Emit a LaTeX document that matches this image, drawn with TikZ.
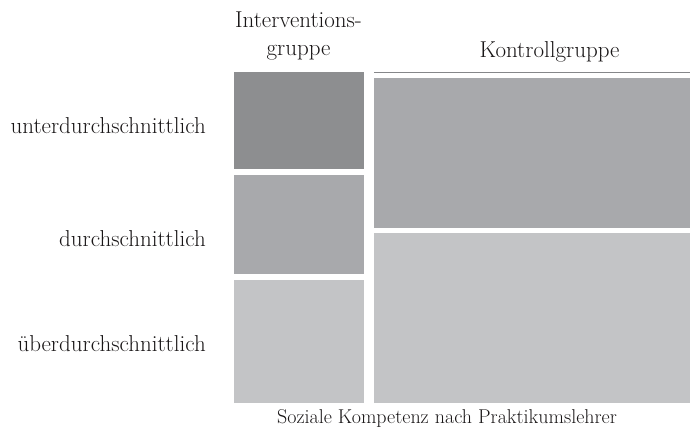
\documentclass[tikz,border=0pt]{standalone}
\usepackage{fontspec}
\definecolor{cA}{RGB}{141,142,144}
\definecolor{cB}{RGB}{168,169,172}
\definecolor{cC}{RGB}{195,196,198}
\definecolor{txt}{RGB}{25,22,23}
\begin{document}
\begin{tikzpicture}[x=1pt,y=-1pt,
  lab/.style={font=\fontsize{23}{27}\selectfont, text=txt, inner sep=0pt},
  xlab/.style={font=\fontsize{20}{24}\selectfont, text=txt, inner sep=0pt}]
\useasboundingbox (0,0) rectangle (692,443);
% Interventionsgruppe
\fill[cA] (234,72) rectangle (364,169);
\fill[cB] (234,175) rectangle (364,274);
\fill[cC] (234,280) rectangle (364,403);
% Kontrollgruppe
\draw[cB!80!black, line width=0.8pt] (374,72.3) -- (690,72.3);
\fill[cB] (374,78) rectangle (690,228);
\fill[cC] (374,233) rectangle (690,403);
% labels
\node[lab, anchor=base east] (l1) at (206,134) {unterdurchschnittlich};
\node[lab, anchor=base east] (l2) at (206,247) {durchschnittlich};
\node[lab, anchor=base east] (l3) at (206,351) {überdurchschnittlich};
\node[lab, anchor=base] (g1) at (298.5,28) {Interventions-};
\node[lab, anchor=base] (g2) at (298.5,56) {gruppe};
\node[lab, anchor=base] (k) at (549.5,58) {Kontrollgruppe};
\node[xlab, anchor=base] (x) at (447,423) {Soziale Kompetenz nach Praktikumslehrer};
\end{tikzpicture}
\end{document}
